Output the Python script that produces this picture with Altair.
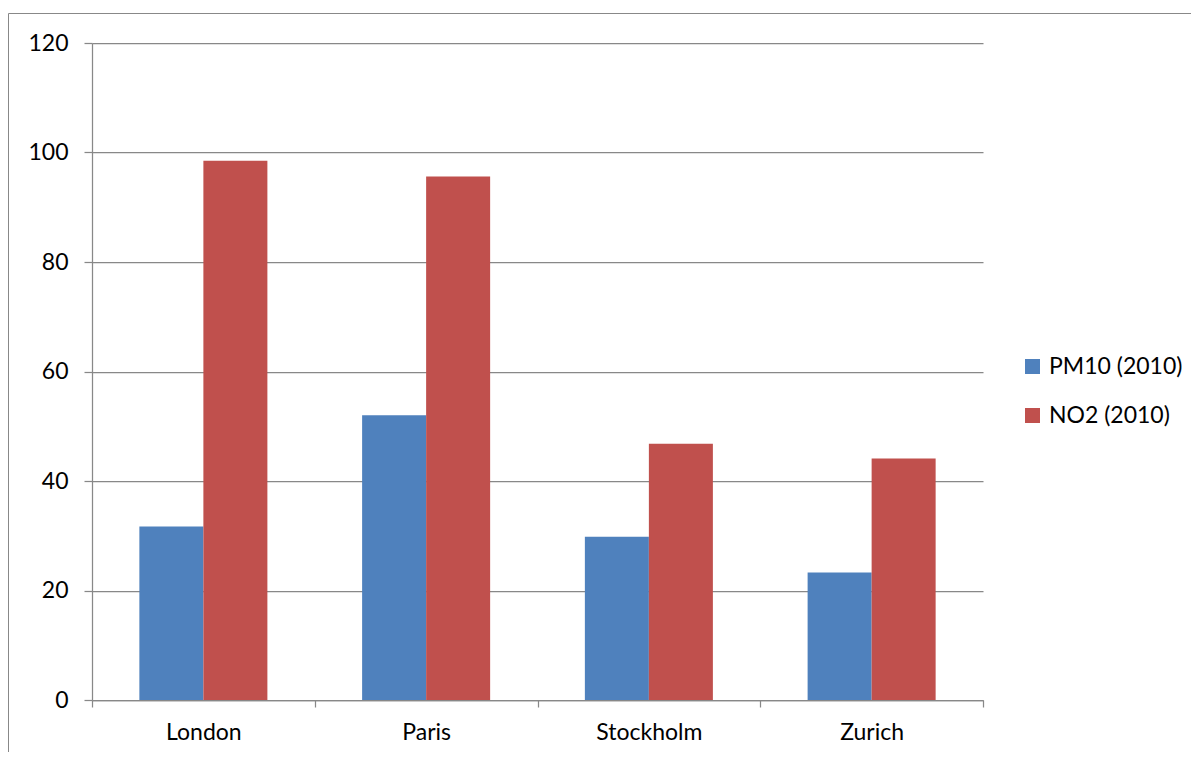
import altair as alt
import pandas as pd

cities = ["London", "Paris", "Stockholm", "Zurich"]
series = ["PM10 (2010)", "NO2 (2010)"]
pm10 = [31.7, 52.0, 29.8, 23.3]
no2 = [98.5, 95.6, 46.8, 44.1]
colors = ["#4F81BD", "#C0504D"]
y_ticks = [0, 20, 40, 60, 80, 100, 120]

rows = []
for i, c in enumerate(cities):
    rows.append({"city": c, "series": series[0], "value": pm10[i]})
    rows.append({"city": c, "series": series[1], "value": no2[i]})
df = pd.DataFrame(rows)

FONT = "Lato"
FS = 23

bars = alt.Chart(df).mark_bar().encode(
    x=alt.X("city:N", sort=cities, title=None,
            scale=alt.Scale(paddingInner=0, paddingOuter=0),
            axis=alt.Axis(labelAngle=0, tickBand="extent", grid=False,
                          domainColor="#888888", tickColor="#888888",
                          tickSize=7, labelPadding=14, labelFontSize=FS,
                          labelFont=FONT, labelColor="#000000")),
    xOffset=alt.XOffset("series:N", sort=series,
                        scale=alt.Scale(paddingInner=0, paddingOuter=0.74)),
    y=alt.Y("value:Q", title=None,
            scale=alt.Scale(domain=[0, 120], nice=False),
            axis=alt.Axis(values=y_ticks, grid=True, gridColor="#888888",
                          gridWidth=1.25, domainColor="#888888",
                          tickColor="#888888", tickSize=8, labelPadding=16,
                          labelFontSize=FS, labelFont=FONT,
                          labelColor="#000000")),
    color=alt.Color("series:N", sort=series,
                    scale=alt.Scale(domain=series, range=colors),
                    legend=alt.Legend(title=None, orient="none",
                                      legendX=929, legendY=312,
                                      symbolType="square", symbolSize=225,
                                      symbolStrokeWidth=0, labelFontSize=FS,
                                      labelFont=FONT, labelColor="#000000",
                                      labelOffset=5, rowPadding=25,
                                      padding=0)),
)

frame_src = pd.DataFrame({"a": [0]})
top_edge = alt.Chart(frame_src).mark_rule(color="#888888", strokeWidth=1).encode(
    x=alt.value(-83.5), x2=alt.value(1300), y=alt.value(-29.5))
left_edge = alt.Chart(frame_src).mark_rule(color="#888888", strokeWidth=1).encode(
    x=alt.value(-83.5), y=alt.value(-29.5), y2=alt.value(900))

chart = alt.layer(top_edge, left_edge, bars).properties(
    width=891, height=657,
    autosize=alt.AutoSizeParams(type="none"),
    padding={"left": 84, "top": 35, "right": 208, "bottom": 52},
).configure_view(stroke=None).configure_axis(domainWidth=1.25, tickWidth=1.25)

chart.save("out.html", embed_options={"renderer": "svg", "actions": False})
